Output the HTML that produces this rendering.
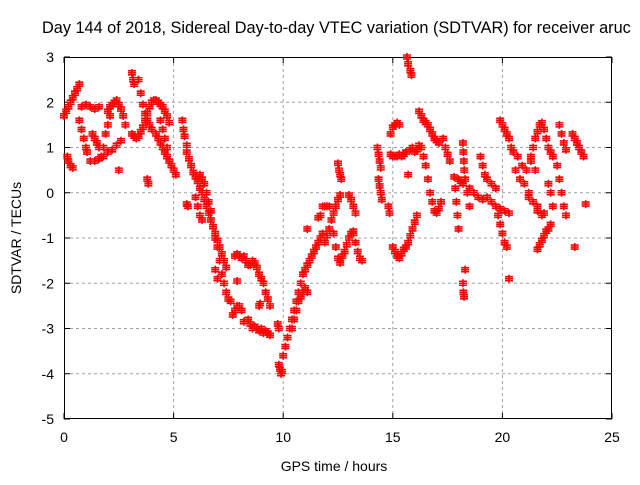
<!DOCTYPE html>
<html><head><meta charset="utf-8"><style>
body{margin:0;background:#fff}
svg text{font-family:"Liberation Sans",sans-serif;font-size:14px;fill:#000}
svg text.title{font-size:16.3px}
</style></head><body>
<svg id="chart" width="640" height="480" xmlns="http://www.w3.org/2000/svg">
<rect width="640" height="480" fill="#fff"/>
<g id="grid"></g>
<g id="axes"></g>
<g id="marks"></g>
<text class="title" x="42" y="33">Day 144 of 2018, Sidereal Day-to-day VTEC variation (SDTVAR) for receiver aruc</text>
<text x="334" y="471" text-anchor="middle">GPS time / hours</text>
<text transform="translate(21,238) rotate(-90)" text-anchor="middle">SDTVAR / TECUs</text>
</svg>
<script>
const xTicks=[0,5,10,15,20,25];
const yTicks=[3,2,1,0,-1,-2,-3,-4,-5];
const hours=[
0,0.1,0.2,0.3,0.4,0.5,0.6,0.7,
0.15,0.2,0.3,0.4,
0.7,0.8,0.9,1.0,1.05,
0.8,1.0,1.2,1.4,1.6,
1.3,1.4,1.5,1.6,
1.2,1.4,1.6,1.8,2.0,2.2,2.4,2.6,
1.7,1.8,1.9,2.0,2.1,
2.0,2.1,2.2,2.3,2.4,2.5,2.6,2.7,2.8,
2.5,
3.1,3.15,3.2,
3.1,3.2,3.3,3.4,3.5,3.6,
3.4,3.5,3.6,3.7,3.8,3.9,4.0,
3.7,3.8,3.9,4.0,4.1,4.2,4.3,4.4,4.5,4.6,4.7,4.8,
3.8,3.85,
4.2,4.3,4.4,4.5,4.6,4.7,4.8,4.9,5.0,5.1,
4.4,4.5,4.6,4.7,
5.4,5.45,5.5,5.6,
5.6,5.7,5.8,5.9,6.0,6.1,6.2,6.3,6.4,6.5,6.6,6.7,6.8,6.9,7.0,7.1,7.2,7.3,7.4,
6.2,6.3,6.4,6.5,6.6,6.7,
5.6,5.65,
6.0,6.1,6.2,6.3,
6.9,7.0,7.1,7.2,7.3,7.4,7.5,7.6,
6.9,7.0,
7.7,7.8,7.9,8.0,8.1,8.2,
7.8,7.9,8.0,8.1,
8.2,8.3,8.4,8.5,8.6,8.7,8.8,8.9,9.0,9.1,9.2,9.3,9.4,
7.9,
8.4,8.5,8.6,8.7,8.8,8.9,9.0,9.1,9.2,9.3,9.4,
8.9,8.95,
9.8,9.85,9.9,9.95,
9.75,9.8,
10.0,10.1,10.2,10.3,10.4,10.5,10.6,10.7,10.8,10.9,11.0,11.1,
10.4,10.5,10.6,10.7,10.8,10.9,11.0,11.1,
11.1,11.2,11.3,11.4,11.5,11.6,11.7,11.8,
11.6,11.7,11.8,11.9,12.0,
11.1,
11.9,12.0,12.1,12.2,12.3,12.4,12.5,12.6,
12.5,12.55,12.6,12.65,
12.1,12.2,12.3,12.4,12.5,12.6,
12.6,12.7,12.8,12.9,13.0,13.1,13.2,
13.0,13.1,13.2,13.3,
13.2,13.3,13.4,13.5,13.6,
14.3,14.35,14.4,14.45,
14.35,14.4,14.45,14.5,
14.8,14.85,
15.0,15.1,15.2,15.3,15.4,15.5,15.6,15.7,15.8,15.9,16.0,16.1,
14.9,15.0,15.1,15.2,15.3,
14.9,15.0,15.1,15.2,15.3,15.4,15.5,15.6,
15.65,15.7,15.8,15.85,
15.7,
15.8,15.9,16.0,16.1,16.2,16.3,
16.2,16.3,16.4,16.5,16.6,16.7,16.8,16.9,17.0,17.1,
16.3,16.4,16.5,16.6,16.7,16.8,16.9,17.0,17.1,17.2,
17.3,17.4,17.5,17.6,
18.2,18.22,18.24,18.26,
17.8,17.85,17.9,17.95,18.0,18.0,18.1,18.2,18.3,18.4,18.5,
18.2,18.22,18.25,18.3,
18.5,18.7,18.9,19.1,19.3,19.5,19.7,19.9,20.1,20.3,
19.0,19.1,19.2,19.3,19.5,19.7,
19.9,20.0,20.1,20.2,20.3,20.4,20.5,
19.7,19.8,19.9,20.0,20.1,20.2,
20.3,
20.6,20.8,21.0,21.2,21.4,21.6,21.8,20.7,20.9,21.1,21.3,21.5,
21.3,21.4,21.5,21.6,21.7,21.8,21.9,22.0,22.1,22.2,22.3,
21.6,21.7,21.8,21.9,22.0,22.1,22.2,
22.5,22.6,22.7,22.8,22.9,
22.6,22.7,22.8,22.9,
23.3,
23.2,23.3,23.4,23.5,23.6,23.7,
23.8,
21.2,21.4,21.6,21.9,22.1,22.2,22.3
];
const tecu=[
1.7,1.8,1.9,2.0,2.1,2.2,2.3,2.4,
0.8,0.7,0.6,0.55,
1.6,1.4,1.2,1.0,0.9,
1.9,1.95,1.9,1.85,1.9,
1.3,1.2,1.1,1.0,
0.7,0.7,0.75,0.8,0.9,0.95,1.05,1.15,
0.8,1.0,1.3,1.5,1.7,
1.8,1.9,1.95,2.0,2.05,1.95,1.85,1.7,1.5,
0.5,
2.65,2.5,2.4,
1.3,1.25,1.2,1.25,1.35,1.45,
2.5,2.2,1.95,1.75,1.6,1.5,1.4,
1.6,1.75,1.9,2.0,2.05,2.05,2.0,1.95,1.9,1.8,1.7,1.55,
0.3,0.2,
1.3,1.2,1.1,1.0,0.9,0.8,0.7,0.6,0.5,0.4,
1.6,1.4,1.2,1.0,
1.6,1.4,1.25,1.05,
0.9,0.75,0.6,0.45,0.35,0.25,0.1,0.0,-0.15,-0.3,-0.45,-0.6,-0.75,-0.9,-1.05,-1.2,-1.35,-1.5,-1.65,
0.4,0.3,0.2,0.0,-0.2,-0.4,
-0.25,-0.3,
-0.1,-0.3,-0.5,-0.6,
-1.0,-1.2,-1.5,-1.8,-2.0,-2.2,-2.35,-2.4,
-1.7,-1.9,
-2.7,-2.6,-2.5,-2.5,-2.6,-2.85,
-1.4,-1.35,-1.4,-1.45,
-1.4,-1.5,-1.6,-1.6,-1.5,-1.55,-1.65,-1.8,-1.9,-2.0,-2.2,-2.35,-2.5,
-1.95,
-2.8,-2.9,-3.0,-2.95,-3.0,-3.05,-3.0,-3.1,-3.05,-3.1,-3.15,
-2.5,-2.45,
-3.8,-3.9,-4.0,-3.95,
-2.9,-3.0,
-3.6,-3.4,-3.2,-3.0,-2.8,-2.6,-2.4,-2.2,-2.0,-1.8,-1.7,-1.6,
-3.0,-2.8,-2.6,-2.4,-2.3,-2.2,-2.1,-2.2,
-1.6,-1.5,-1.4,-1.3,-1.2,-1.1,-1.0,-0.9,
-0.55,-0.5,-0.3,-0.3,-0.3,
-0.8,
-1.1,-0.95,-0.8,-0.6,-0.45,-0.3,-0.15,-0.05,
0.65,0.5,0.4,0.3,
-0.3,-0.6,-0.9,-1.2,-1.45,-1.55,
-1.5,-1.4,-1.3,-1.15,-1.0,-0.9,-0.85,
-0.05,-0.15,-0.3,-0.45,
-0.9,-1.1,-1.3,-1.45,-1.5,
1.0,0.85,0.7,0.55,
0.3,0.15,0.0,-0.15,
-0.3,-0.45,
-1.2,-1.3,-1.4,-1.45,-1.35,-1.25,-1.2,-1.1,-0.95,-0.8,-0.65,-0.5,
1.3,1.45,1.5,1.55,1.5,
0.85,0.8,0.8,0.8,0.85,0.8,0.85,0.9,
3.0,2.85,2.7,2.6,
0.4,
0.95,1.0,0.9,0.95,1.05,1.0,
1.8,1.7,1.6,1.55,1.5,1.4,1.3,1.2,1.15,1.1,
1.0,0.8,0.6,0.3,0.0,-0.2,-0.4,-0.45,-0.35,-0.2,
1.2,1.0,0.85,0.7,
1.1,0.9,0.7,0.5,
0.35,0.1,-0.2,-0.5,-0.8,0.3,0.25,0.2,0.3,0.0,-0.3,
-2.0,-2.2,-2.3,-1.7,
0.1,0.0,-0.1,-0.15,-0.1,-0.2,-0.3,-0.35,-0.4,-0.45,
0.8,0.6,0.4,0.3,0.2,0.1,
1.6,1.5,1.4,1.3,1.2,1.0,0.9,
-0.3,-0.5,-0.7,-0.9,-1.1,-1.2,
-1.9,
0.5,0.3,0.2,0.0,-0.2,-0.4,-0.5,0.8,0.6,0.5,0.7,0.5,
0.8,1.0,1.2,1.35,1.5,1.55,1.4,1.2,1.0,0.9,0.8,
-1.25,-1.15,-1.05,-0.95,-0.85,-0.8,-0.7,
0.6,0.3,0.0,-0.3,-0.5,
1.5,1.3,1.1,0.95,
-1.2,
1.3,1.2,1.1,1.0,0.9,0.8,
-0.25,
-0.1,-0.2,-0.3,-0.45,0.2,0.0,-0.3
];
const L=64,R=612,T=57,B=419;
const xS=h=>L+(h-0)/(25-0)*(R-L);
const yS=v=>T+(3-v)/(3-(-5))*(B-T);
const NS="http://www.w3.org/2000/svg";
function mk(tag,parent,attrs){const e=document.createElementNS(NS,tag);for(const k in attrs)e.setAttribute(k,attrs[k]);parent.appendChild(e);return e;}
const grid=document.getElementById('grid'),axes=document.getElementById('axes'),marks=document.getElementById('marks');
xTicks.forEach(t=>{const x=xS(t);
 if(t>0&&t<25){const g=mk('line',grid,{x1:x,x2:x,y1:T,y2:B,stroke:'#a0a0a0','stroke-dasharray':'3,3','stroke-width':1});
 
 }
 mk('line',axes,{x1:x,x2:x,y1:B,y2:B-6,stroke:'#000'});
 mk('line',axes,{x1:x,x2:x,y1:T,y2:T+6,stroke:'#000'});
 const lb=mk('text',axes,{x:x,y:B+23,'text-anchor':'middle'});lb.textContent=t;
 
 
});
yTicks.forEach(t=>{const y=yS(t);
 if(t<3&&t>-5){const g=mk('line',grid,{x1:L,x2:R,y1:y,y2:y,stroke:'#a0a0a0','stroke-dasharray':'3,3','stroke-width':1});
 
 }
 mk('line',axes,{x1:L,x2:L+6,y1:y,y2:y,stroke:'#000'});
 mk('line',axes,{x1:R,x2:R-6,y1:y,y2:y,stroke:'#000'});
 const lb=mk('text',axes,{x:L-10,y:y+5,'text-anchor':'end'});lb.textContent=t;
 
 
});
const fr=mk('rect',axes,{x:L+0.5,y:T+0.5,width:R-L-1,height:B-T-1,fill:'none',stroke:'#000'});


let d='';
for(let i=0;i<hours.length;i++){const x=xS(hours[i]),y=yS(tecu[i]);
 d+=`M${x-4},${y}h8M${x},${y-4}v8M${x-4},${y-2}h8M${x-4},${y+2}h8`;}
const p=mk('path',marks,{d:d,stroke:'#ff0000','stroke-width':1.6,fill:'none'});


</script>
</body></html>
